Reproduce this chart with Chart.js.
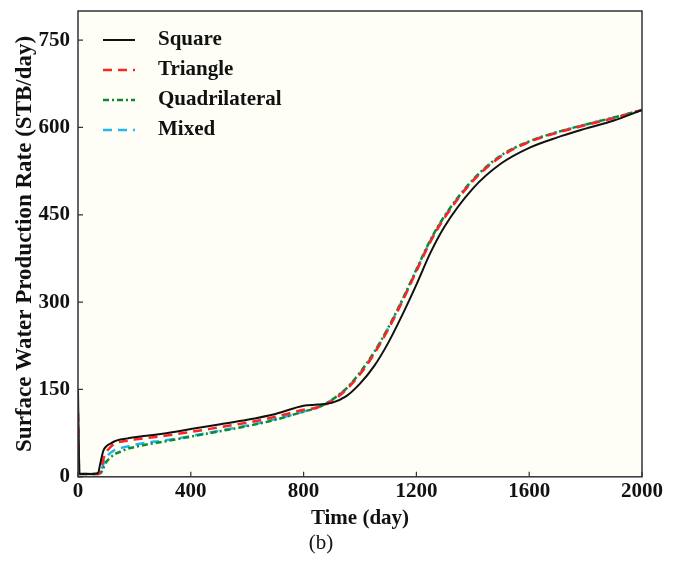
<!DOCTYPE html>
<html>
<head>
<meta charset="utf-8">
<script src="https://cdn.jsdelivr.net/npm/chart.js@4"></script>
<style>
  html, body { margin: 0; padding: 0; background: #fff; }
  #wrap { width: 678px; height: 574px; }
</style>
</head>
<body>
<div id="wrap"><canvas id="rateChart" width="678" height="574"></canvas></div>
<script>
// time axis (day)
const times = [0, 5, 20, 50, 70, 80, 90, 100, 115, 130, 150, 175, 200, 250, 300, 400, 500, 600, 700, 800, 850, 900, 950, 1000, 1050, 1100, 1150, 1200, 1250, 1300, 1400, 1500, 1600, 1700, 1800, 1900, 2000];

// surface water production rate (STB/day)
const square        = [150, 5, 5, 5, 6, 25, 45, 52, 57, 61, 64, 66, 68, 71, 74, 82, 90, 98, 108, 122, 124, 127, 138, 160, 190, 230, 278, 330, 385, 430, 495, 538, 565, 583, 598, 612, 630];
const triangle      = [110, 5, 5, 5, 5, 10, 30, 42, 51, 57, 60, 62, 64, 67, 70, 77, 85, 93, 103, 115, 119, 130, 149, 176, 211, 253, 301, 353, 404, 445, 508, 550, 575, 591, 604, 616, 630];
const quadrilateral = [70, 5, 5, 5, 5, 6, 15, 25, 33, 39, 43, 48, 51, 56, 60, 69, 78, 87, 98, 112, 119, 132, 151, 179, 214, 256, 304, 356, 407, 448, 510, 552, 576, 592, 605, 617, 630];
const mixed         = [90, 5, 5, 5, 5, 8, 22, 33, 41, 46, 49, 52, 55, 59, 62, 70, 79, 88, 99, 112, 120, 132, 151, 178, 213, 255, 303, 355, 406, 447, 509, 551, 576, 592, 605, 617, 630];

const yTicks = [0, 150, 300, 450, 600, 750];
const xTicks = [0, 400, 800, 1200, 1600, 2000];

const seriesNames = ['Square', 'Triangle', 'Quadrilateral', 'Mixed'];
const seriesColors = ['#111111', '#ff2424', '#0b8a30', '#22b6f0'];
const seriesDash = [[], [9, 6], [6, 3, 2, 3], [9, 6]];
const seriesWidth = [2, 2.5, 2.5, 2.5];

const serif = '"Liberation Serif", "Times New Roman", serif';

function toPoints(values) {
    return times.map((t, i) => ({ x: t, y: values[i] }));
}

const allValues = [square, triangle, quadrilateral, mixed];

// cream plot background + frame + inward ticks + legend
const frameAndTicks = {
    id: 'frameAndTicks',
    beforeDatasetsDraw(chart) {
        const { ctx, chartArea: a } = chart;
        ctx.save();
        ctx.fillStyle = '#fefef6';
        ctx.fillRect(a.left, a.top, a.right - a.left, a.bottom - a.top);
        ctx.restore();
    },
    afterDatasetsDraw(chart) {
        const { ctx, chartArea: a, scales } = chart;
        ctx.save();
        ctx.strokeStyle = '#333';
        ctx.lineWidth = 1.5;
        ctx.strokeRect(a.left, a.top, a.right - a.left, a.bottom - a.top);
        ctx.lineWidth = 1.2;
        ctx.beginPath();
        xTicks.forEach(v => {
            const px = scales.x.getPixelForValue(v);
            ctx.moveTo(px, a.bottom);
            ctx.lineTo(px, a.bottom - 5);
        });
        yTicks.forEach(v => {
            const py = scales.y.getPixelForValue(v);
            ctx.moveTo(a.left, py);
            ctx.lineTo(a.left + 5, py);
        });
        ctx.stroke();

        // legend inside the plot
        ctx.font = 'bold 21px ' + serif;
        ctx.textBaseline = 'middle';
        ctx.fillStyle = '#111';
        seriesNames.forEach((name, i) => {
            const y = a.top + 29 + i * 30;
            ctx.strokeStyle = seriesColors[i];
            ctx.lineWidth = seriesWidth[i];
            ctx.setLineDash(seriesDash[i]);
            ctx.beginPath();
            ctx.moveTo(a.left + 25, y);
            ctx.lineTo(a.left + 57, y);
            ctx.stroke();
            ctx.setLineDash([]);
            ctx.fillText(name, a.left + 80, y);
        });
        ctx.restore();
    }
};

const chartContext = document.getElementById('rateChart').getContext('2d');
const rateChart = new Chart(chartContext, {
    type: 'line',
    data: {
        datasets: seriesNames.map((name, i) => ({
            label: name,
            data: toPoints(allValues[i]),
            borderColor: seriesColors[i],
            borderDash: seriesDash[i],
            borderWidth: seriesWidth[i],
            pointRadius: 0,
            fill: false,
            cubicInterpolationMode: 'monotone'
        }))
    },
    options: {
        responsive: false,
        animation: false,
        layout: { padding: { left: 0, right: 36, top: 0, bottom: 0 } },
        plugins: {
            legend: { display: false },
            tooltip: { enabled: false },
            title: {
                display: true,
                position: 'bottom',
                text: '(b)',
                color: '#111',
                font: { family: serif, size: 21, weight: 'normal' },
                padding: { top: 0, bottom: 18 }
            }
        },
        scales: {
            x: {
                type: 'linear',
                min: 0,
                max: 2000,
                afterBuildTicks: s => { s.ticks = xTicks.map(v => ({ value: v })); },
                afterFit: s => { s.height = 54; },
                grid: { display: false, drawTicks: false },
                border: { display: false },
                ticks: {
                    color: '#111',
                    padding: 2,
                    maxRotation: 0,
                    callback: v => String(v),
                    font: { family: serif, size: 21, weight: 'bold' }
                },
                title: {
                    display: true,
                    text: 'Time (day)',
                    color: '#111',
                    font: { family: serif, size: 21, weight: 'bold' },
                    padding: { top: 0, bottom: 0 }
                }
            },
            y: {
                type: 'linear',
                min: 0,
                max: 800,
                afterBuildTicks: s => { s.ticks = yTicks.map(v => ({ value: v })); },
                afterFit: s => { s.width = 78; s.paddingTop = 11; s.paddingBottom = 0; },
                grid: { display: false, drawTicks: false },
                border: { display: false },
                ticks: {
                    color: '#111',
                    padding: 8,
                    callback: v => String(v),
                    font: { family: serif, size: 21, weight: 'bold' }
                },
                title: {
                    display: true,
                    text: 'Surface Water Production Rate (STB/day)',
                    color: '#111',
                    font: { family: serif, size: 23, weight: 'bold' },
                    padding: { top: 11, bottom: 0 }
                }
            }
        }
    },
    plugins: [frameAndTicks]
});
</script>
</body>
</html>
